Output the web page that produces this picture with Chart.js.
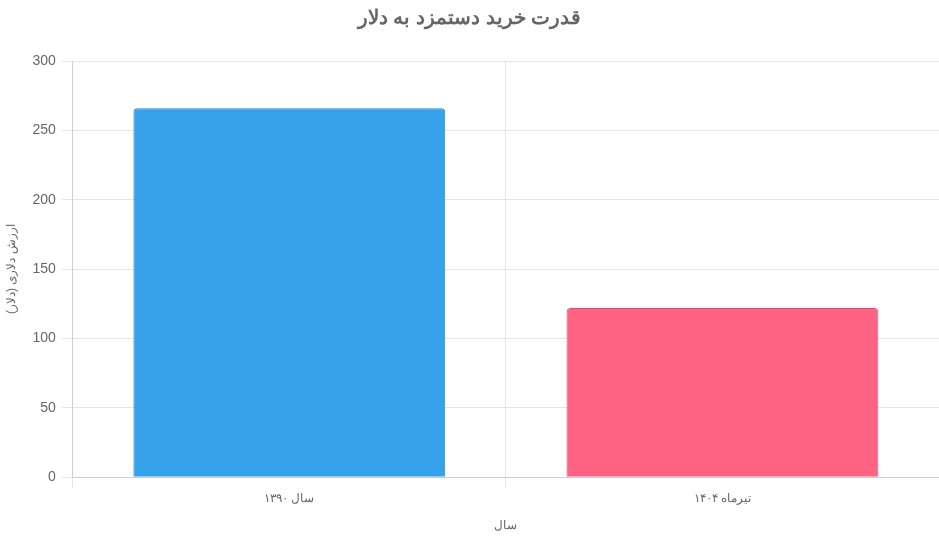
<!DOCTYPE html>
<html>
<head>
<meta charset="utf-8">
<script src="https://cdn.jsdelivr.net/npm/chart.js@4"></script>
<style>
  body { margin: 0; background: #fff; }
  #wrap { width: 939px; height: 542px; }
</style>
</head>
<body>
<div id="wrap"><canvas id="barChart"></canvas></div>
<script>
const categories = ['سال ۱۳۹۰', 'تیرماه ۱۴۰۴'];
const wageValues = [266, 122];
const barColors = ['rgb(54, 162, 235)', 'rgb(255, 99, 132)'];
const barBorders = ['rgb(40, 130, 200)', 'rgb(220, 80, 110)'];

const ctx = document.getElementById('barChart').getContext('2d');

const barChart = new Chart(ctx, {
    type: 'bar',
    data: {
        labels: categories,
        datasets: [{
            label: 'ارزش دلاری',
            data: wageValues,
            backgroundColor: barColors,
            borderColor: barBorders,
            borderWidth: 1,
            borderRadius: 4,
        }]
    },
    options: {
        responsive: true,
        maintainAspectRatio: false,
        animation: false,
        layout: { padding: { bottom: 5 } },
        plugins: {
            legend: { display: false },
            title: {
                display: true,
                text: 'قدرت خرید دستمزد به دلار',
                color: '#666',
                font: { size: 20, weight: 'bold', family: 'Arial, Liberation Sans' },
                padding: { top: 6, bottom: 31 }
            }
        },
        scales: {
            x: {
                grid: { tickLength: 11 },
                ticks: { color: '#666', font: { size: 12 } },
                title: { display: true, text: 'سال', color: '#666', font: { size: 12 }, padding: { top: 10, bottom: 4 } }
            },
            y: {
                min: 0,
                max: 300,
                grid: { tickLength: 11 },
                ticks: { stepSize: 50, color: '#666', font: { size: 14 }, padding: 6 },
                title: { display: true, text: 'ارزش دلاری (دلار)', color: '#666', font: { size: 12 }, padding: { top: 4, bottom: 8 } }
            }
        }
    }
});
</script>
</body>
</html>
